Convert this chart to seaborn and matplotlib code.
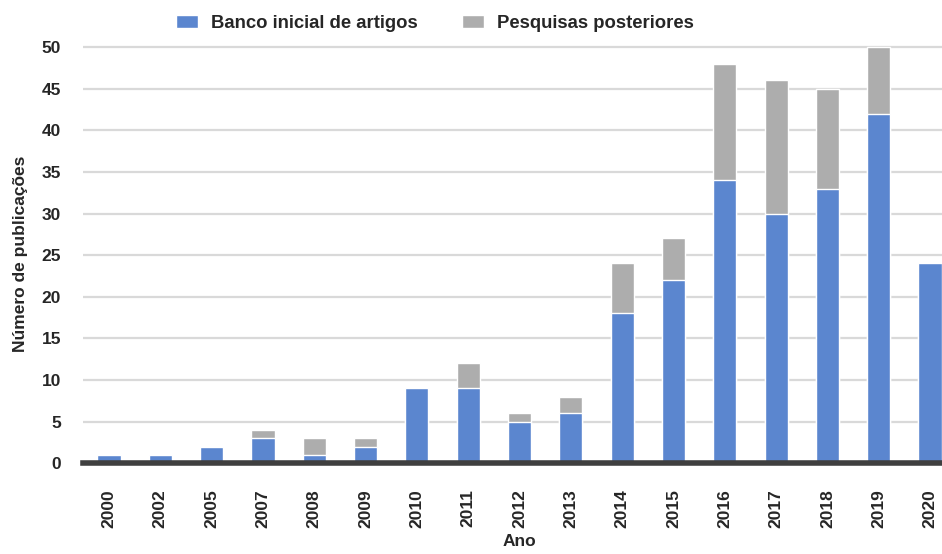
import matplotlib
matplotlib.use("Agg")
import matplotlib.pyplot as plt
import seaborn as sns
import pandas as pd
from matplotlib.patches import Patch

anos = ["2000", "2002", "2005", "2007", "2008", "2009", "2010", "2011", "2012",
        "2013", "2014", "2015", "2016", "2017", "2018", "2019", "2020"]
banco_inicial = [1, 1, 2, 3, 1, 2, 9, 9, 5, 6, 18, 22, 34, 30, 33, 42, 24]
pesquisas_posteriores = [0, 0, 0, 1, 2, 1, 0, 3, 1, 2, 6, 5, 14, 16, 12, 8, 0]

df = pd.DataFrame({
    "Ano": anos,
    "Banco": banco_inicial,
    "Posteriores": pesquisas_posteriores,
})
df["Total"] = df["Banco"] + df["Posteriores"]

sns.set_theme(style="white")
plt.rcParams["font.family"] = ["Liberation Sans", "DejaVu Sans"]

azul = "#5b86cf"
cinza = "#adadad"
texto = "#262626"

fig = plt.figure(figsize=(9.42, 5.54), dpi=100)
ax = fig.add_axes([0.0885, 0.164, 0.926, 0.754])

sns.barplot(data=df, x="Ano", y="Total", color=cinza, saturation=1,
            width=0.45, ax=ax)
sns.barplot(data=df, x="Ano", y="Banco", color=azul, saturation=1,
            width=0.45, ax=ax)

ax.set_ylim(0, 50.2)
ax.set_yticks(range(0, 51, 5))
ax.yaxis.grid(True, color="#d9d9d9", linewidth=1.6)
ax.set_axisbelow(True)
for side in ["left", "right", "top"]:
    ax.spines[side].set_visible(False)
ax.spines["bottom"].set_color("#3f3f3f")
ax.spines["bottom"].set_linewidth(4)

ax.tick_params(axis="x", rotation=90, length=0, pad=19, labelsize=12.5,
               labelcolor=texto)
ax.tick_params(axis="y", length=0, pad=16, labelsize=12.5, labelcolor=texto)
for lab in ax.get_xticklabels() + ax.get_yticklabels():
    lab.set_fontweight("bold")

ax.set_xlabel("Ano", fontsize=12.5, fontweight="bold", color=texto, labelpad=4)
ax.set_ylabel("Número de publicações", fontsize=12.5, fontweight="bold",
              color=texto, labelpad=10)

handles = [Patch(facecolor=azul, label="Banco inicial de artigos"),
           Patch(facecolor=cinza, label="Pesquisas posteriores")]
fig.legend(handles=handles, loc="center", bbox_to_anchor=(0.462, 0.957),
           ncol=2, frameon=False, handlelength=1.2, handleheight=0.7,
           columnspacing=2.4, handletextpad=0.7,
           prop={"weight": "bold", "size": 13.3})
for t in fig.legends[0].get_texts():
    t.set_color(texto)

fig.savefig("out.png", dpi=100)
